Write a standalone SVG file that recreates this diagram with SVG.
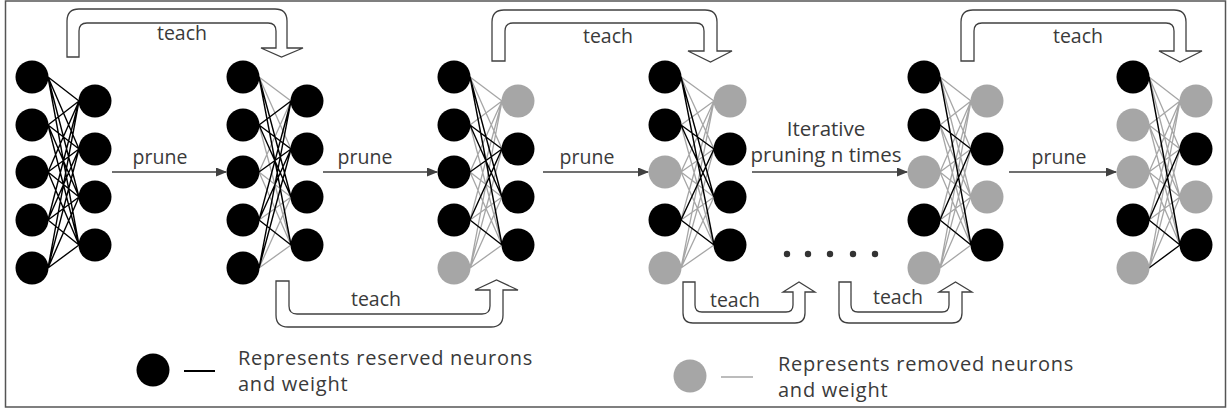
<svg xmlns="http://www.w3.org/2000/svg" width="1231" height="412" viewBox="0 0 1231 412">
<style>
.t{font-family:"Open Sans","Noto Sans","Liberation Sans",sans-serif;fill:#3a3a3a}
.lbl{font-size:19.5px;text-anchor:middle}
.leg{font-size:20px;letter-spacing:0.75px}
.b{fill:#000}
.g{fill:#a6a6a6}
.eb{stroke:#000;stroke-width:1.4;fill:none}
.eg{stroke:#a6a6a6;stroke-width:1.3;fill:none}
.ar{stroke:#404040;stroke-width:1.5;fill:none}
.ta{fill:#fff;stroke:#404040;stroke-width:1.3}
</style>
<defs>
<marker id="ah" markerUnits="userSpaceOnUse" markerWidth="11" markerHeight="9" refX="10" refY="4.5" orient="auto">
<path d="M0,0 L11,4.5 L0,9 z" fill="#404040"/>
</marker>
</defs>
<rect x="5.5" y="1" width="1220" height="406" fill="#fff" stroke="#555" stroke-width="1.5"/>

<g id="net1">
<path class="eb" d="M48 77L79 101M48 77L79 149M48 77L79 197M48 77L79 245M48 125L79 101M48 125L79 149M48 125L79 197M48 125L79 245M48 172L79 101M48 172L79 149M48 172L79 197M48 172L79 245M48 220L79 101M48 220L79 149M48 220L79 197M48 220L79 245M48 268L79 101M48 268L79 149M48 268L79 197M48 268L79 245"/>
<circle class="b" cx="32" cy="77" r="16.5"/><circle class="b" cx="32" cy="125" r="16.5"/><circle class="b" cx="32" cy="172" r="16.5"/><circle class="b" cx="32" cy="220" r="16.5"/><circle class="b" cx="32" cy="268" r="16.5"/>
<circle class="b" cx="95" cy="101" r="16.5"/><circle class="b" cx="95" cy="149" r="16.5"/><circle class="b" cx="95" cy="197" r="16.5"/><circle class="b" cx="95" cy="245" r="16.5"/>
</g>

<g id="net2">
<path class="eg" d="M259 77L291 101M259 77L291 149M259 125L291 245M259 172L291 101M259 172L291 197M259 172L291 245M259 220L291 197M259 268L291 197M259 268L291 245"/>
<path class="eb" d="M259 77L291 197M259 77L291 245M259 125L291 101M259 125L291 149M259 125L291 197M259 172L291 149M259 220L291 101M259 220L291 149M259 220L291 245M259 268L291 101M259 268L291 149"/>
<circle class="b" cx="243" cy="77" r="16.5"/><circle class="b" cx="243" cy="125" r="16.5"/><circle class="b" cx="243" cy="172" r="16.5"/><circle class="b" cx="243" cy="220" r="16.5"/><circle class="b" cx="243" cy="268" r="16.5"/>
<circle class="b" cx="307" cy="101" r="16.5"/><circle class="b" cx="307" cy="149" r="16.5"/><circle class="b" cx="307" cy="197" r="16.5"/><circle class="b" cx="307" cy="245" r="16.5"/>
</g>

<g id="net3">
<path class="eg" d="M470 77L502 101M470 77L502 149M470 125L502 101M470 125L502 245M470 172L502 101M470 172L502 197M470 172L502 245M470 220L502 101M470 220L502 197M470 268L502 101M470 268L502 149M470 268L502 197M470 268L502 245"/>
<path class="eb" d="M470 77L502 197M470 77L502 245M470 125L502 149M470 125L502 197M470 172L502 149M470 220L502 149M470 220L502 245"/>
<circle class="b" cx="454" cy="77" r="16.5"/><circle class="b" cx="454" cy="125" r="16.5"/><circle class="b" cx="454" cy="172" r="16.5"/><circle class="b" cx="454" cy="220" r="16.5"/><circle class="g" cx="454" cy="268" r="16.5"/>
<circle class="g" cx="518" cy="101" r="16.5"/><circle class="b" cx="518" cy="149" r="16.5"/><circle class="b" cx="518" cy="197" r="16.5"/><circle class="b" cx="518" cy="245" r="16.5"/>
</g>

<g id="net4">
<path class="eg" d="M681 77L714 101M681 77L714 149M681 125L714 101M681 125L714 245M681 172L714 101M681 172L714 149M681 172L714 197M681 172L714 245M681 220L714 101M681 220L714 197M681 268L714 101M681 268L714 149M681 268L714 197M681 268L714 245"/>
<path class="eb" d="M681 77L714 197M681 77L714 245M681 125L714 149M681 125L714 197M681 220L714 149M681 220L714 245"/>
<circle class="b" cx="665" cy="77" r="16.5"/><circle class="b" cx="665" cy="125" r="16.5"/><circle class="g" cx="665" cy="172" r="16.5"/><circle class="b" cx="665" cy="220" r="16.5"/><circle class="g" cx="665" cy="268" r="16.5"/>
<circle class="g" cx="730" cy="101" r="16.5"/><circle class="b" cx="730" cy="149" r="16.5"/><circle class="b" cx="730" cy="197" r="16.5"/><circle class="b" cx="730" cy="245" r="16.5"/>
</g>

<g id="net5">
<path class="eg" d="M940 77L971 101M940 77L971 149M940 77L971 197M940 125L971 101M940 125L971 197M940 125L971 245M940 172L971 101M940 172L971 149M940 172L971 197M940 172L971 245M940 220L971 101M940 220L971 197M940 268L971 101M940 268L971 149M940 268L971 197M940 268L971 245"/>
<path class="eb" d="M940 77L971 245M940 125L971 149M940 220L971 149M940 220L971 245"/>
<circle class="b" cx="924" cy="77" r="16.5"/><circle class="b" cx="924" cy="125" r="16.5"/><circle class="g" cx="924" cy="172" r="16.5"/><circle class="b" cx="924" cy="220" r="16.5"/><circle class="g" cx="924" cy="268" r="16.5"/>
<circle class="g" cx="987" cy="101" r="16.5"/><circle class="b" cx="987" cy="149" r="16.5"/><circle class="g" cx="987" cy="197" r="16.5"/><circle class="b" cx="987" cy="245" r="16.5"/>
</g>

<g id="net6">
<path class="eg" d="M1149 77L1180 101M1149 77L1180 149M1149 77L1180 197M1149 125L1180 101M1149 125L1180 149M1149 125L1180 197M1149 125L1180 245M1149 172L1180 101M1149 172L1180 149M1149 172L1180 197M1149 172L1180 245M1149 220L1180 101M1149 220L1180 197M1149 268L1180 101M1149 268L1180 149M1149 268L1180 197"/>
<path class="eb" d="M1149 77L1180 245M1149 220L1180 149M1149 220L1180 245M1149 268L1180 245"/>
<circle class="b" cx="1133" cy="77" r="16.5"/><circle class="g" cx="1133" cy="125" r="16.5"/><circle class="g" cx="1133" cy="172" r="16.5"/><circle class="b" cx="1133" cy="220" r="16.5"/><circle class="g" cx="1133" cy="268" r="16.5"/>
<circle class="g" cx="1196" cy="101" r="16.5"/><circle class="b" cx="1196" cy="149" r="16.5"/><circle class="g" cx="1196" cy="197" r="16.5"/><circle class="b" cx="1196" cy="245" r="16.5"/>
</g>

<g id="connectors">
<line class="ar" x1="112" y1="172" x2="226" y2="172" marker-end="url(#ah)"/>
<line class="ar" x1="323" y1="172" x2="437" y2="172" marker-end="url(#ah)"/>
<line class="ar" x1="543" y1="172" x2="648" y2="172" marker-end="url(#ah)"/>
<line class="ar" x1="752" y1="172" x2="907" y2="172" marker-end="url(#ah)"/>
<line class="ar" x1="1009" y1="172" x2="1116" y2="172" marker-end="url(#ah)"/>
<path class="ta" d="M67 57V21Q67 9 79 9H275Q287 9 287 21V48H303L281.5 57L261 48H276V31Q276 23 268 23H87Q79 23 79 31V57Z"/>
<path class="ta" d="M492 61V22Q492 10 504 10H705Q717 10 717 22V51H732L710.5 62L688 51H704V31Q704 23 696 23H513Q505 23 505 31V61Z"/>
<path class="ta" d="M961 61V22Q961 10 973 10H1174Q1186 10 1186 22V51H1202L1180 62L1159 51H1174V31Q1174 23 1166 23H982Q974 23 974 31V61Z"/>
<path class="ta" d="M276 281V315Q276 327 288 327H491Q503 327 503 315V290H518L496.5 280L475 290H490V306Q490 314 482 314H297Q289 314 289 306V281Z"/>
<path class="ta" d="M683 282V313Q683 323 693 323H795Q805 323 805 313V292H815L799 282L783 292H793V305Q793 312 786 312H702Q695 312 695 305V282Z"/>
<path class="ta" d="M839 282V313Q839 323 849 323H952Q962 323 962 313V292H972L955.5 282L939 292H949V305Q949 312 942 312H858Q851 312 851 305V282Z"/>
</g>

<g id="labels">
<text class="t lbl" x="182" y="40">teach</text>
<text class="t lbl" x="608" y="43">teach</text>
<text class="t lbl" x="1078" y="43">teach</text>
<text class="t lbl" x="376" y="306">teach</text>
<text class="t lbl" x="735" y="307">teach</text>
<text class="t lbl" x="898" y="304">teach</text>
<text class="t lbl" x="160" y="164">prune</text>
<text class="t lbl" x="365" y="164">prune</text>
<text class="t lbl" x="587" y="164">prune</text>
<text class="t lbl" x="1059" y="164">prune</text>
<text class="t lbl" style="font-size:20.5px"><tspan x="826" y="136">Iterative</tspan><tspan x="826" y="162">pruning n times</tspan></text>
</g>

<g id="dots" fill="#333">
<circle cx="787" cy="254" r="3.2"/><circle cx="808" cy="254" r="3.2"/><circle cx="830" cy="254" r="3.2"/><circle cx="853" cy="254" r="3.2"/><circle cx="875" cy="254" r="3.2"/>
</g>

<g id="legend">
<circle class="b" cx="153" cy="370" r="16.5"/>
<line x1="184" y1="371" x2="215" y2="371" stroke="#000" stroke-width="2"/>
<text class="t leg"><tspan x="238" y="365">Represents reserved neurons</tspan><tspan x="238" y="391">and weight</tspan></text>
<circle class="g" cx="690" cy="376" r="16.5"/>
<line x1="721" y1="377" x2="753" y2="377" stroke="#a6a6a6" stroke-width="1.5"/>
<text class="t leg"><tspan x="778" y="371">Represents removed neurons</tspan><tspan x="778" y="397">and weight</tspan></text>
</g>
</svg>
